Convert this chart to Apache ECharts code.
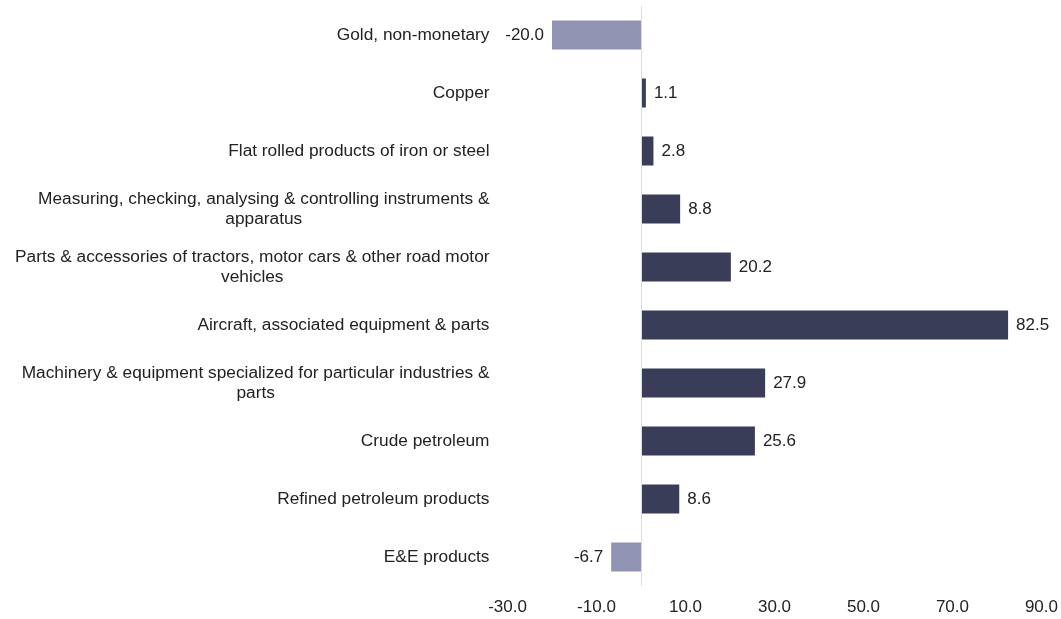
<!DOCTYPE html>
<html>
<head>
<meta charset="utf-8">
<script src="https://cdn.jsdelivr.net/npm/echarts@6/dist/echarts.min.js"></script>
<style>html,body{margin:0;padding:0;background:#fff}#c{width:1061px;height:619px}</style>
</head>
<body>
<div id="c"></div>
<script>
var categories = [
  "Gold, non-monetary",
  "Copper",
  "Flat rolled products of iron or steel",
  "Measuring, checking, analysing & controlling instruments & apparatus",
  "Parts & accessories of tractors, motor cars & other road motor vehicles",
  "Aircraft, associated equipment & parts",
  "Machinery & equipment specialized for particular industries & parts",
  "Crude petroleum",
  "Refined petroleum products",
  "E&E products"
];
var values = [-20.0, 1.1, 2.8, 8.8, 20.2, 82.5, 27.9, 25.6, 8.6, -6.7];
var tickLabels = ["-30.0", "-10.0", "10.0", "30.0", "50.0", "70.0", "90.0"];

var FONT = 'Liberation Sans, Arial, sans-serif';
var CAT_SIZE = 17.3;
var VAL_SIZE = 17;
var ctx = document.createElement('canvas').getContext('2d');
ctx.font = CAT_SIZE + 'px ' + FONT;
function wrap(s, maxW) {
  var words = s.split(' '), lines = [], cur = '';
  words.forEach(function (w) {
    var t = cur ? cur + ' ' + w : w;
    if (cur && ctx.measureText(t).width > maxW) { lines.push(cur); cur = w; }
    else cur = t;
  });
  if (cur) lines.push(cur);
  return lines;
}

var chart = echarts.init(document.getElementById('c'));
chart.setOption({
  animation: false,
  backgroundColor: '#fff',
  grid: { left: 507.5, right: 19.5, top: 6, bottom: 33, containLabel: false },
  xAxis: {
    type: 'value', min: -30, max: 90, interval: 10,
    axisLine: { show: false }, axisTick: { show: false }, splitLine: { show: false },
    axisLabel: {
      margin: 13, color: '#222', fontSize: VAL_SIZE, fontFamily: FONT,
      formatter: function (v) {
        var s = v.toFixed(1);
        return tickLabels.indexOf(s) >= 0 ? s : '';
      }
    }
  },
  yAxis: {
    type: 'category', data: categories, inverse: true,
    axisLine: { show: false }, axisTick: { show: false },
    axisLabel: {
      margin: 18, color: '#222', fontSize: CAT_SIZE, fontFamily: FONT,
      formatter: function (v) {
        return wrap(v, 495).map(function (l) { return '{a|' + l + '}'; }).join('\n');
      },
      rich: { a: { align: 'center', fontSize: CAT_SIZE, fontFamily: FONT, color: '#222', lineHeight: 19.5 } }
    }
  },
  series: [{
    type: 'bar',
    barWidth: '50%',
    data: values.map(function (v) {
      return {
        value: v,
        itemStyle: { color: v < 0 ? '#9094b2' : '#3a3d58' },
        label: { position: v < 0 ? 'left' : 'right' }
      };
    }),
    label: {
      show: true, distance: 8, color: '#222', fontSize: VAL_SIZE, fontFamily: FONT,
      formatter: function (p) { return p.value.toFixed(1); }
    },
    markLine: {
      silent: true, symbol: 'none', label: { show: false },
      lineStyle: { color: '#dcdcdc', width: 1, type: 'solid' },
      data: [{ xAxis: 0 }]
    }
  }]
});
</script>
</body>
</html>
